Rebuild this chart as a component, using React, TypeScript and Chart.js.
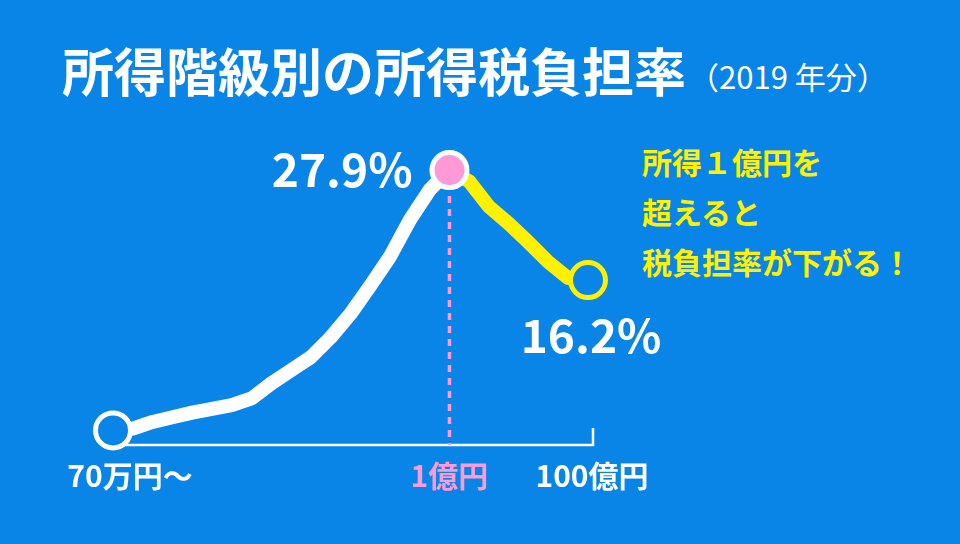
import React, { useEffect, useRef } from "react";
import { Chart, registerables } from "chart.js";

Chart.register(...registerables);

// ---- data ----
const categories = [
  "〜70万円", "〜100万円", "〜150万円", "〜200万円", "〜250万円", "〜300万円",
  "〜400万円", "〜500万円", "〜600万円", "〜700万円", "〜800万円", "〜1000万円",
  "〜1200万円", "〜1500万円", "〜2000万円", "〜3000万円", "〜5000万円", "〜1億円",
  "〜2億円", "〜5億円", "〜10億円", "〜20億円", "〜50億円", "〜100億円", "100億円超",
];
// tax burden rate (%) up to 1億円 (white line)
const risingRates = [0.2, 0.4, 1.1, 1.6, 2.1, 2.5, 2.9, 3.6, 5.2, 6.6, 8.0, 10.1, 12.6, 15.6, 18.7, 22.6, 25.8, 27.9];
// tax burden rate (%) from 1億円 upward (yellow line)
const fallingRates = [27.9, 26.7, 24.0, 22.2, 20.2, 18.1, 16.4, 16.2];
const tickIndices = [0, 17, 24];
const tickLabels = ["70万円～", "1億円", "100億円"];
const peakLabel = "27.9%";
const endLabel = "16.2%";

const BLUE = "#0885E6";
const PINK = "#FF9AD6";
const YELLOW = "#FFF100";
const FONT = "'Noto Sans CJK JP', 'Noto Sans', sans-serif";

export default function App() {
  const canvasRef = useRef<HTMLCanvasElement | null>(null);

  useEffect(() => {
    const canvas = canvasRef.current;
    if (!canvas) return;
    const n = categories.length;
    const peakIdx = risingRates.length - 1;
    const whiteData = categories.map((_, i) => (i <= peakIdx ? risingRates[i] : null));
    const yellowData = categories.map((_, i) => (i >= peakIdx ? fallingRates[i - peakIdx] : null));
    const allRates = categories.map((_, i) => (i <= peakIdx ? risingRates[i] : fallingRates[i - peakIdx]));
    const markerData = categories.map((_, i) => (tickIndices.includes(i) ? allRates[i] : null));
    const markerFill = categories.map((_, i) => (i === peakIdx ? PINK : BLUE));
    const markerBorder = categories.map((_, i) => (i === n - 1 ? YELLOW : "#ffffff"));

    const overlay = {
      id: "overlay",
      beforeDatasetsDraw(chart: any) {
        const { ctx, chartArea, scales } = chart;
        const x = scales.x, y = scales.y;
        const bottom = chartArea.bottom;
        const x0 = x.getPixelForValue(0);
        const xEnd = x.getPixelForValue(n - 1);
        const xPeak = x.getPixelForValue(peakIdx);
        ctx.save();
        ctx.strokeStyle = "#ffffff";
        ctx.lineWidth = 2.5;
        ctx.beginPath();
        ctx.moveTo(x0, bottom);
        ctx.lineTo(xEnd + 5, bottom);
        ctx.lineTo(xEnd + 5, bottom - 17);
        ctx.stroke();
        ctx.strokeStyle = PINK;
        ctx.lineWidth = 3.5;
        ctx.setLineDash([7, 6]);
        ctx.beginPath();
        ctx.moveTo(xPeak, y.getPixelForValue(risingRates[peakIdx]));
        ctx.lineTo(xPeak, bottom);
        ctx.stroke();
        ctx.restore();
      },
      afterDatasetsDraw(chart: any) {
        const { ctx, chartArea, scales } = chart;
        const x = scales.x, y = scales.y;
        const bottom = chartArea.bottom;
        const xPeak = x.getPixelForValue(peakIdx);
        const yPeak = y.getPixelForValue(risingRates[peakIdx]);
        const xEnd = x.getPixelForValue(n - 1);
        const yEnd = y.getPixelForValue(fallingRates[fallingRates.length - 1]);
        ctx.save();
        ctx.fillStyle = "#ffffff";
        ctx.textBaseline = "alphabetic";
        ctx.font = `bold 46px ${FONT}`;
        ctx.textAlign = "right";
        ctx.fillText(peakLabel, xPeak - 37, yPeak + 17);
        ctx.textAlign = "center";
        ctx.fillText(endLabel, xEnd + 3, yEnd + 73);
        ctx.font = `bold 30px ${FONT}`;
        const offsets = [17, 0, 4];
        tickIndices.forEach((idx, k) => {
          ctx.fillStyle = idx === peakIdx ? PINK : "#ffffff";
          ctx.fillText(tickLabels[k], x.getPixelForValue(idx) + offsets[k], bottom + 42);
        });
        ctx.restore();
      },
    };

    const chart = new Chart(canvas, {
      type: "line",
      data: {
        labels: categories,
        datasets: [
          {
            data: markerData,
            showLine: false,
            pointRadius: 17.5,
            pointBorderWidth: 5,
            pointBackgroundColor: markerFill,
            pointBorderColor: markerBorder,
            pointHoverRadius: 17.5,
            clip: false,
            order: 0,
          },
          {
            data: whiteData,
            borderColor: "#ffffff",
            borderWidth: 14,
            borderJoinStyle: "round",
            borderCapStyle: "round",
            pointRadius: 0,
            tension: 0,
            spanGaps: false,
            clip: false,
            order: 2,
          },
          {
            data: yellowData,
            borderColor: YELLOW,
            borderWidth: 14,
            borderJoinStyle: "round",
            borderCapStyle: "round",
            pointRadius: 0,
            tension: 0,
            spanGaps: false,
            clip: false,
            order: 1,
          },
        ],
      } as any,
      options: {
        animation: false,
        responsive: true,
        maintainAspectRatio: false,
        layout: { padding: { left: 113, right: 372, top: 150.3, bottom: 99 } },
        plugins: { legend: { display: false }, tooltip: { enabled: false }, title: { display: false } },
        events: [],
        scales: {
          x: { type: "category", display: false, offset: false },
          y: { type: "linear", display: false, min: -1.35, max: 30 },
        },
      } as any,
      plugins: [overlay],
    });
    return () => chart.destroy();
  }, []);

  return (
    <div
      style={{
        position: "fixed",
        left: 0,
        top: 0,
        width: 960,
        height: 544,
        background: BLUE,
        overflow: "hidden",
        fontFamily: FONT,
      }}
    >
      <div
        style={{
          position: "absolute",
          left: 62,
          top: 32,
          color: "#ffffff",
          whiteSpace: "nowrap",
          display: "flex",
          alignItems: "baseline",
        }}
      >
        <span style={{ fontSize: 52, fontWeight: 700, letterSpacing: 0 }}>所得階級別の所得税負担率</span>
        <span style={{ fontSize: 31, fontWeight: 400, marginLeft: 2, position: "relative", top: -3 }}>（2019 年分）</span>
      </div>
      <div
        style={{
          position: "absolute",
          left: 642,
          top: 136,
          color: YELLOW,
          fontSize: 30,
          fontWeight: 700,
          lineHeight: "50px",
          whiteSpace: "nowrap",
        }}
      >
        <div>所得１億円を</div>
        <div>超えると</div>
        <div>税負担率が下がる！</div>
      </div>
      <div style={{ position: "absolute", left: 0, top: 0, width: 960, height: 544 }}>
        <canvas ref={canvasRef} />
      </div>
    </div>
  );
}
